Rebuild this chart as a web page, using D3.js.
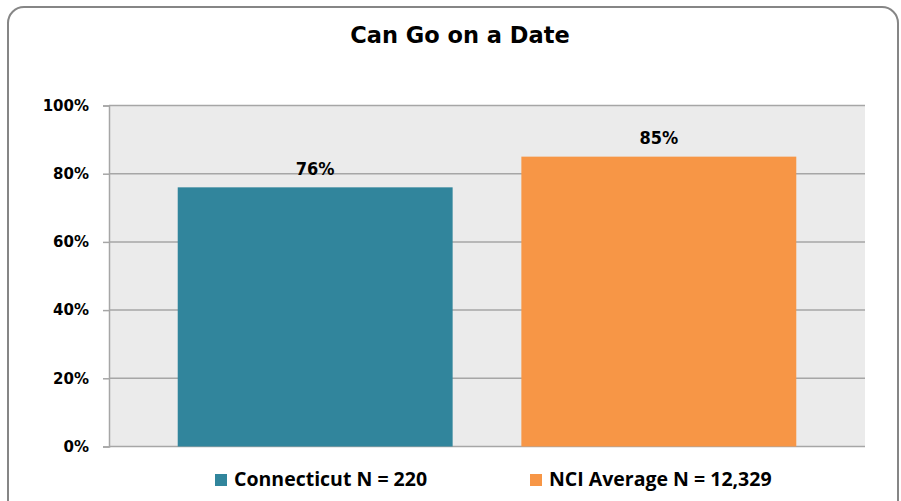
<!DOCTYPE html>
<html>
<head>
<meta charset="utf-8">
<script src="https://cdn.jsdelivr.net/npm/d3@7"></script>
<style>
  html, body { margin: 0; padding: 0; background: #ffffff; }
  svg { display: block; }
</style>
</head>
<body>
<svg id="chart" width="901" height="501"></svg>
<script>
// ---- data ----
const title = "Can Go on a Date";
const seriesNames = ["Connecticut N = 220", "NCI Average N = 12,329"];
const seriesValues = [0.76, 0.85];
const valueLabels = ["76%", "85%"];
const seriesColors = ["#31859c", "#f79646"];
const yTicks = [0, 0.2, 0.4, 0.6, 0.8, 1.0];

// ---- layout ----
const W = 901, H = 501;
const plot = { left: 109, right: 865, top: 105.5, bottom: 446.5 };

const svg = d3.select("#chart");

// outer rounded border
svg.append("rect")
  .attr("x", 8).attr("y", 7)
  .attr("width", 890).attr("height", 520)
  .attr("rx", 16).attr("ry", 16)
  .attr("fill", "#ffffff")
  .attr("stroke", "#868686")
  .attr("stroke-width", 2);

// title
svg.append("text")
  .attr("x", 460).attr("y", 43)
  .attr("text-anchor", "middle")
  .attr("font-family", "'DejaVu Sans', sans-serif")
  .attr("font-weight", "bold")
  .attr("font-size", 22.5)
  .attr("fill", "#000")
  .text(title);

const x = d3.scaleBand()
  .domain(seriesNames)
  .range([plot.left, plot.right])
  .paddingInner(0.2)
  .paddingOuter(0.2);

const y = d3.scaleLinear()
  .domain([0, 1])
  .range([plot.bottom, plot.top]);

// plot background
svg.append("rect")
  .attr("x", plot.left).attr("y", plot.top)
  .attr("width", plot.right - plot.left)
  .attr("height", plot.bottom - plot.top)
  .attr("fill", "#ebebeb");

// gridlines
svg.append("g")
  .selectAll("line")
  .data(yTicks)
  .join("line")
  .attr("x1", plot.left).attr("x2", plot.right)
  .attr("y1", d => y(d)).attr("y2", d => y(d))
  .attr("stroke", "#a6a6a6")
  .attr("stroke-width", 1.5);

// y axis
const yAxis = d3.axisLeft(y)
  .tickValues(yTicks)
  .tickFormat(d3.format(".0%"))
  .tickSize(6)
  .tickPadding(14);

const gy = svg.append("g")
  .attr("transform", `translate(${plot.left},0)`)
  .call(yAxis);
gy.select(".domain").attr("stroke", "#a6a6a6").attr("stroke-width", 1.5);
gy.selectAll(".tick line").attr("stroke", "#a6a6a6").attr("stroke-width", 1.5);
gy.selectAll(".tick text")
  .attr("font-family", "'DejaVu Sans', sans-serif")
  .attr("font-weight", "bold")
  .attr("font-size", 15)
  .attr("fill", "#000");

// bars
svg.append("g")
  .selectAll("rect")
  .data(seriesNames)
  .join("rect")
  .attr("x", d => x(d))
  .attr("width", x.bandwidth())
  .attr("y", (d, i) => y(seriesValues[i]))
  .attr("height", (d, i) => y(0) - y(seriesValues[i]))
  .attr("fill", (d, i) => seriesColors[i]);

// value labels
svg.append("g")
  .selectAll("text")
  .data(seriesNames)
  .join("text")
  .attr("x", d => x(d) + x.bandwidth() / 2)
  .attr("y", (d, i) => y(seriesValues[i]) - 12.5)
  .attr("text-anchor", "middle")
  .attr("font-family", "'DejaVu Sans Condensed', 'DejaVu Sans', sans-serif")
  .attr("font-weight", "bold")
  .attr("font-size", 18)
  .attr("fill", "#000")
  .text((d, i) => valueLabels[i]);

// legend
const legendX = [215, 530];
const lg = svg.append("g")
  .selectAll("g")
  .data(seriesNames)
  .join("g")
  .attr("transform", (d, i) => `translate(${legendX[i]},474)`);
lg.append("rect")
  .attr("width", 12).attr("height", 12)
  .attr("fill", (d, i) => seriesColors[i]);
lg.append("text")
  .attr("x", 19).attr("y", 12)
  .attr("font-family", "'Open Sans', sans-serif")
  .attr("font-weight", "bold")
  .attr("font-size", 19.5)
  .attr("fill", "#000")
  .text(d => d);
</script>
</body>
</html>
